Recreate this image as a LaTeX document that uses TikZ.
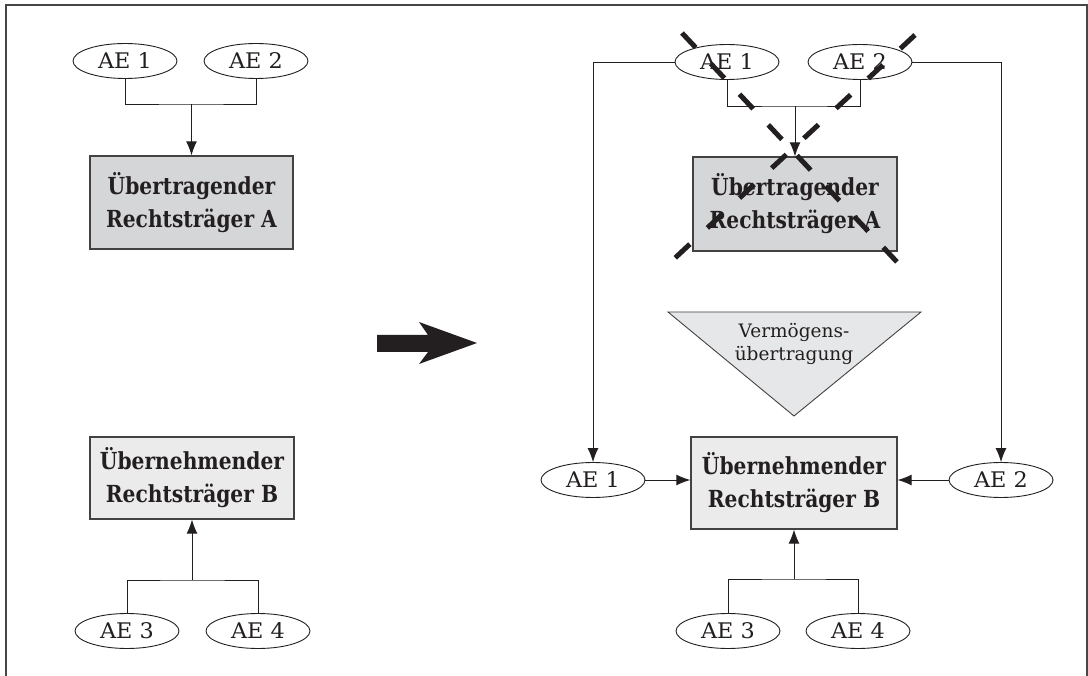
\documentclass[tikz,border=0pt]{standalone}
\usepackage{fontspec}
\setmainfont{DejaVu Serif}
\newfontfamily\boxfont{DejaVu Serif}[FakeStretch=0.86]
\newfontfamily\aefont{DejaVu Serif}[FakeStretch=1.04]
\usetikzlibrary{shapes.geometric,arrows.meta}
\definecolor{txt}{RGB}{35,31,32}
\definecolor{grayA}{RGB}{213,214,216}
\definecolor{grayB}{RGB}{235,235,236}
\definecolor{grayT}{RGB}{230,231,232}
\definecolor{framec}{RGB}{70,70,70}
\begin{document}
\begin{tikzpicture}[x=1pt,y=-1pt,
  ae/.style={ellipse,draw=txt,line width=0.9pt,fill=white,minimum width=104pt,minimum height=35pt,inner sep=0pt,font=\aefont\fontsize{21.5}{24}\selectfont,text=txt},
  rt/.style={rectangle,draw=txt!85,line width=1.3pt,inner sep=0pt,align=center,font=\boxfont\bfseries\fontsize{23.5}{33}\selectfont,text=txt},
  conn/.style={draw=txt,line width=0.9pt},
  arr/.style={conn,-{Latex[length=14pt,width=11pt]}},
  cross/.style={line width=5pt,draw=txt}
]
\useasboundingbox (0,0) rectangle (1088,676);
\draw[framec,line width=2pt] (6,676) -- (6,5) -- (1086.5,5) -- (1086.5,676);

% ---------- left side ----------
\node[ae] (aeL1) at (125,61) {AE 1};
\node[ae] (aeL2) at (256,61) {AE 2};
\node[rt,fill=grayA,minimum width=203pt,minimum height=93pt] (boxA) at (191.5,202.5) {Übertragender\\Rechtsträger A};
\coordinate (jA) at (191.5,104);
\draw[conn] (aeL1.south) |- (jA) -| (aeL2.south);
\draw[arr] (jA) -- (boxA.north);

\node[rt,fill=grayB,minimum width=204pt,minimum height=82pt] (boxBL) at (192,478) {Übernehmender\\Rechtsträger B};
\node[ae] (aeL3) at (127,631) {AE 3};
\node[ae] (aeL4) at (258,631) {AE 4};
\coordinate (jB) at (192,580);
\draw[conn] (aeL3.north) |- (jB) -| (aeL4.north);
\draw[arr] (jB) -- (boxBL.south);

% ---------- big arrow ----------
\fill[txt] (377,335) -- (428,335) -- (419,322) -- (477,343) -- (419,364) -- (428,352) -- (377,352) -- cycle;

% ---------- right side ----------
\node[ae] (aeR1) at (727,62) {AE 1};
\node[ae] (aeR2) at (860,62) {AE 2};
\node[rt,fill=grayA,minimum width=204pt,minimum height=94pt] (boxAR) at (795,204) {Übertragender\\Rechtsträger A};
\coordinate (jC) at (795,106);
\draw[conn] (aeR1.south) |- (jC) -| (aeR2.south);
\draw[arr] (jC) -- (boxAR.north);

\filldraw[fill=grayT,draw=txt!85,line width=0.9pt] (668,312) -- (921,312) -- (794,416) -- cycle;
\node[align=center,text=txt,font=\fontsize{18.5}{23}\selectfont,inner sep=0pt] (vu) at (794,344) {Vermögens-\\übertragung};

\node[rt,fill=grayB,minimum width=206pt,minimum height=92pt] (boxBR) at (794,483) {Übernehmender\\Rechtsträger B};
\node[ae] (aeRL) at (593,480) {AE 1};
\node[ae] (aeRR) at (1001,480) {AE 2};
\draw[arr] (aeR1.west) -| (aeRL.north);
\draw[arr] (aeR2.east) -| (aeRR.north);
\draw[arr] (aeRL.east) -- (aeRL.east -| boxBR.west);
\draw[arr] (aeRR.west) -- (aeRR.west -| boxBR.east);

\node[ae] (aeR3) at (728,631) {AE 3};
\node[ae] (aeR4) at (858,631) {AE 4};
\coordinate (jD) at (794,579);
\draw[conn] (aeR3.north) |- (jD) -| (aeR4.north);
\draw[arr] (jD) -- (boxBR.south);

% ---------- crossing out ----------
\coordinate (c1a) at (682,33);
\coordinate (c1b) at (897,262);
\coordinate (c2a) at (915,35);
\coordinate (c2b) at (675,258);
\draw[cross,dash pattern=on 20pt off 22pt] (c1a) -- (c1b);
\draw[cross,dash pattern=on 20pt off 23.9pt] (c2a) -- (c2b);
\end{tikzpicture}
\end{document}
